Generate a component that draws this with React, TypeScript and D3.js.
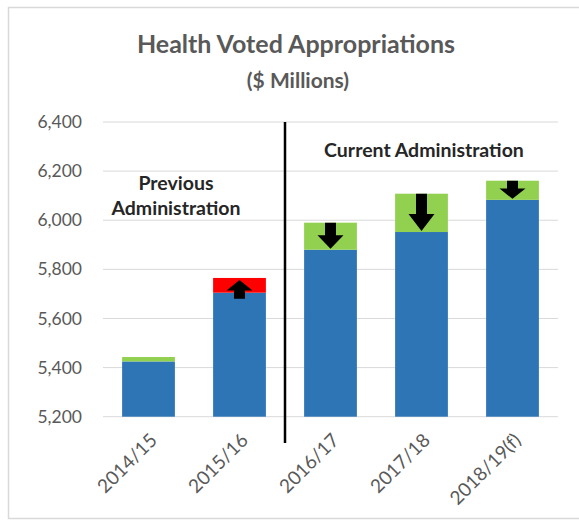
import React from "react";
import * as d3 from "d3";

const categories = ["2014/15", "2015/16", "2016/17", "2017/18", "2018/19(f)"];
const baseValues = [5425, 5705, 5880, 5952, 6083];
const adjustValues = [18, 60, 110, 156, 78];
const adjustKinds = ["green", "red", "green", "green", "green"];
const arrowDirs = ["none", "up", "down", "down", "down"];
const yTicks = [5200, 5400, 5600, 5800, 6000, 6200, 6400];

const W = 579;
const H = 527;
const FONT = "Lato, 'Open Sans', sans-serif";
const BLUE = "#2E75B6";
const GREEN = "#92D050";
const RED = "#FF0000";
const GRID = "#d9d9d9";
const TEXT = "#595959";

export default function App() {
  const x = d3
    .scaleBand<string>()
    .domain(categories)
    .range([103, 558])
    .paddingInner(0.42)
    .paddingOuter(0.21);
  const y = d3.scaleLinear().domain([5200, 6400]).range([416.7, 122]);
  const bw = x.bandwidth();
  const fmt = d3.format(",");
  const dividerX = (x(categories[1])! + bw + x(categories[2])!) / 2;

  const arrowPath = (cx: number, from: number, to: number) => {
    const len = Math.abs(to - from);
    const dir = to > from ? 1 : -1;
    const head = Math.min(17, 0.4 * len + 3);
    const hw = 13;
    const sw = 5.5;
    const hb = to - dir * head;
    return [
      [cx - sw, from],
      [cx + sw, from],
      [cx + sw, hb],
      [cx + hw, hb],
      [cx, to],
      [cx - hw, hb],
      [cx - sw, hb],
    ]
      .map((p) => p.join(","))
      .join(" ");
  };

  return (
    <svg
      width={W}
      height={H}
      style={{ position: "absolute", left: 0, top: 0, background: "#fff" }}
      fontFamily={FONT}
    >
      <rect x={0} y={0} width={W} height={H} fill="#fff" />
      <rect x={8.5} y={7.5} width={W} height={511} fill="none" stroke={GRID} strokeWidth={1.5} />

      <text x={296} y={53} textAnchor="middle" fontSize={25} fontWeight="bold" fill={TEXT}>
        Health Voted Appropriations
      </text>
      <text x={298} y={88} textAnchor="middle" fontSize={21} fontWeight="bold" fill={TEXT}>
        ($ Millions)
      </text>

      {yTicks.map((t) => (
        <g key={t}>
          <line x1={103} x2={558} y1={y(t)} y2={y(t)} stroke={GRID} strokeWidth={1} />
          <text x={82} y={y(t)} dy="0.35em" textAnchor="end" fontSize={17.5} fill={TEXT}>
            {fmt(t)}
          </text>
        </g>
      ))}

      {categories.map((c, i) => {
        const bx = x(c)!;
        const b = baseValues[i];
        const tot = b + adjustValues[i];
        const cx = bx + bw / 2;
        return (
          <g key={c}>
            <rect x={bx} y={y(b)} width={bw} height={y(5200) - y(b)} fill={BLUE} />
            <rect
              x={bx}
              y={y(tot)}
              width={bw}
              height={y(b) - y(tot)}
              fill={adjustKinds[i] === "red" ? RED : GREEN}
            />
            {arrowDirs[i] === "down" && (
              <polygon points={arrowPath(cx, y(tot), y(b) - 1)} fill="#000" />
            )}
            {arrowDirs[i] === "up" && (
              <polygon points={arrowPath(cx, y(b) + 6, y(tot) + 2)} fill="#000" />
            )}
            <text
              transform={`translate(${cx + 5},${y(5200) + 20}) rotate(-45)`}
              textAnchor="end"
              dy="0.35em"
              fontSize={19}
              fill={TEXT}
            >
              {c}
            </text>
          </g>
        );
      })}

      <line x1={dividerX} x2={dividerX} y1={122} y2={443} stroke="#000" strokeWidth={2.5} />

      <text x={176} y={190} textAnchor="middle" fontSize={19.5} fontWeight="bold" fill="#262626">
        Previous
      </text>
      <text x={176} y={215} textAnchor="middle" fontSize={19.5} fontWeight="bold" fill="#262626">
        Administration
      </text>
      <text x={424} y={157} textAnchor="middle" fontSize={19.5} fontWeight="bold" fill="#262626">
        Current Administration
      </text>
    </svg>
  );
}
